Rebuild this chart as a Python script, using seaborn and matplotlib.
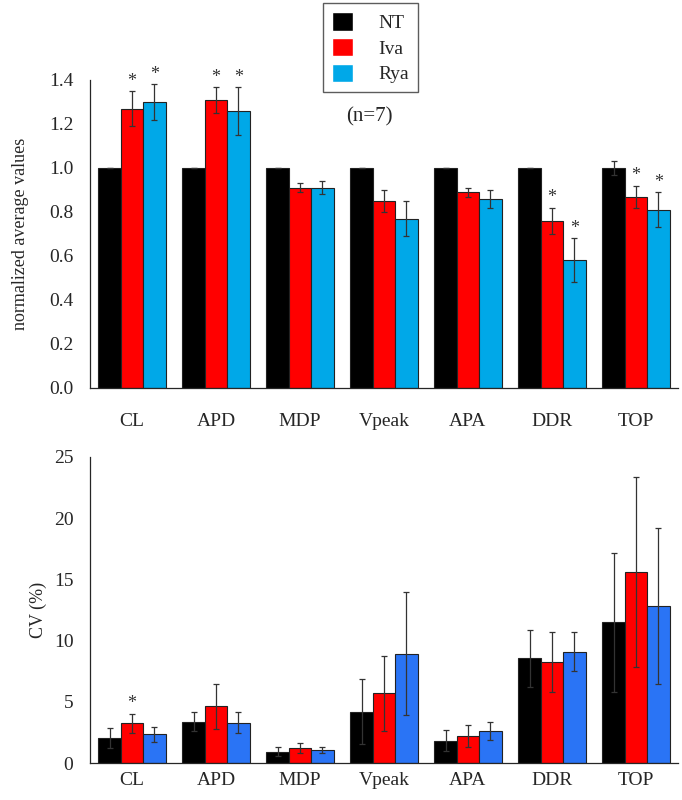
import numpy as np
import pandas as pd
import seaborn as sns
import matplotlib.pyplot as plt
from matplotlib.ticker import MultipleLocator, FixedLocator

# ---- data ----
params = ["CL", "APD", "MDP", "Vpeak", "APA", "DDR", "TOP"]
groups = ["NT", "Iva", "Rya"]

# normalized averages (top)
norm_nt = [1.00, 1.00, 1.00, 1.00, 1.00, 1.00, 1.00]
norm_iva = [1.27, 1.31, 0.91, 0.85, 0.89, 0.76, 0.87]
norm_rya = [1.30, 1.26, 0.91, 0.77, 0.86, 0.58, 0.81]
norm_nt_err = [0.00, 0.00, 0.00, 0.00, 0.00, 0.00, 0.03]
norm_iva_err = [0.08, 0.06, 0.02, 0.05, 0.02, 0.06, 0.05]
norm_rya_err = [0.08, 0.11, 0.03, 0.08, 0.04, 0.10, 0.08]
norm_stars = {"Iva": ["CL", "APD", "DDR", "TOP"], "Rya": ["CL", "APD", "DDR", "TOP"]}

# coefficient of variation (bottom)
cv_nt = [2.05, 3.4, 0.95, 4.2, 1.85, 8.55, 11.5]
cv_iva = [3.25, 4.65, 1.25, 5.7, 2.2, 8.25, 15.6]
cv_rya = [2.35, 3.3, 1.1, 8.95, 2.65, 9.1, 12.85]
cv_nt_err = [0.8, 0.75, 0.35, 2.65, 0.85, 2.3, 5.65]
cv_iva_err = [0.8, 1.85, 0.4, 3.05, 0.9, 2.45, 7.75]
cv_rya_err = [0.6, 0.85, 0.25, 5.0, 0.75, 1.6, 6.35]
cv_stars = {"Iva": ["CL"]}

top_colors = ["#000000", "#ff0000", "#00a8e8"]
bot_colors = ["#000000", "#ff0000", "#2a74f5"]

sns.set_style("white")
plt.rcParams["font.family"] = ["Liberation Serif", "DejaVu Serif"]
plt.rcParams["axes.linewidth"] = 0.9


def long_df(nt, iva, rya):
    return pd.DataFrame({
        "param": params * 3,
        "group": ["NT"] * 7 + ["Iva"] * 7 + ["Rya"] * 7,
        "value": list(nt) + list(iva) + list(rya),
    })


def draw(ax, df, errs, colors, stars, star_pad, xpad):
    sns.barplot(data=df, x="param", y="value", hue="group", order=params,
                hue_order=groups, palette=colors, errorbar=None, width=0.8,
                saturation=1, edgecolor="#222222", linewidth=0.8, ax=ax,
                legend=False)
    for g, cont, err in zip(groups, ax.containers, errs):
        xs = [b.get_x() + b.get_width() / 2 for b in cont]
        ys = [b.get_height() for b in cont]
        ax.errorbar(xs, ys, yerr=err, fmt="none", ecolor="#333333",
                    elinewidth=0.9, capsize=2.2, capthick=0.9, zorder=5)
        for p in stars.get(g, []):
            i = params.index(p)
            ax.text(xs[i], ys[i] + err[i] + star_pad, "*", ha="center",
                    va="bottom", fontsize=13, color="#333333")
    ax.set_xlim(-0.5, 6.5)
    sns.despine(ax=ax)
    ax.set_xlabel("")
    ax.tick_params(axis="x", length=0, labelsize=14, pad=xpad)
    ax.xaxis.set_minor_locator(FixedLocator(np.arange(0.5, 7, 1.0)))
    ax.tick_params(axis="x", which="minor", length=4, direction="in", width=0.8)
    ax.tick_params(axis="y", length=4, direction="in", width=0.8,
                   labelsize=14, pad=12)


fig = plt.figure(figsize=(6.82, 8), dpi=100)
ax1 = fig.add_axes([0.132, 0.515, 0.862, 0.385])
ax2 = fig.add_axes([0.132, 0.046, 0.862, 0.383])

draw(ax1, long_df(norm_nt, norm_iva, norm_rya),
     [norm_nt_err, norm_iva_err, norm_rya_err], top_colors, norm_stars,
     0.005, 18)
ax1.set_ylim(0, 1.4)
ax1.yaxis.set_major_locator(MultipleLocator(0.2))
ax1.set_yticklabels([f"{v:.1f}" for v in ax1.get_yticks()])
ax1.set_ylabel("normalized average values", fontsize=13, labelpad=14)
ax1.text(0.476, 0.88, "(n=7)", transform=ax1.transAxes, ha="center",
         va="center", fontsize=15)

draw(ax2, long_df(cv_nt, cv_iva, cv_rya),
     [cv_nt_err, cv_iva_err, cv_rya_err], bot_colors, cv_stars, 0.1, 6)
ax2.set_ylim(0, 25)
ax2.yaxis.set_major_locator(MultipleLocator(5))
ax2.set_ylabel("CV (%)", fontsize=13, labelpad=5)

# legend boxed above top panel
handles = [plt.Rectangle((0, 0), 1, 1, facecolor=c) for c in top_colors]
fig.legend(handles, groups, loc="upper center", bbox_to_anchor=(0.543, 0.996),
           fontsize=14, frameon=True, fancybox=False, edgecolor="#333333",
           handlelength=1.1, handleheight=1.1, handletextpad=1.3,
           labelspacing=0.3, borderpad=0.45, borderaxespad=0)

plt.savefig("out.png", dpi=100)
plt.close()
